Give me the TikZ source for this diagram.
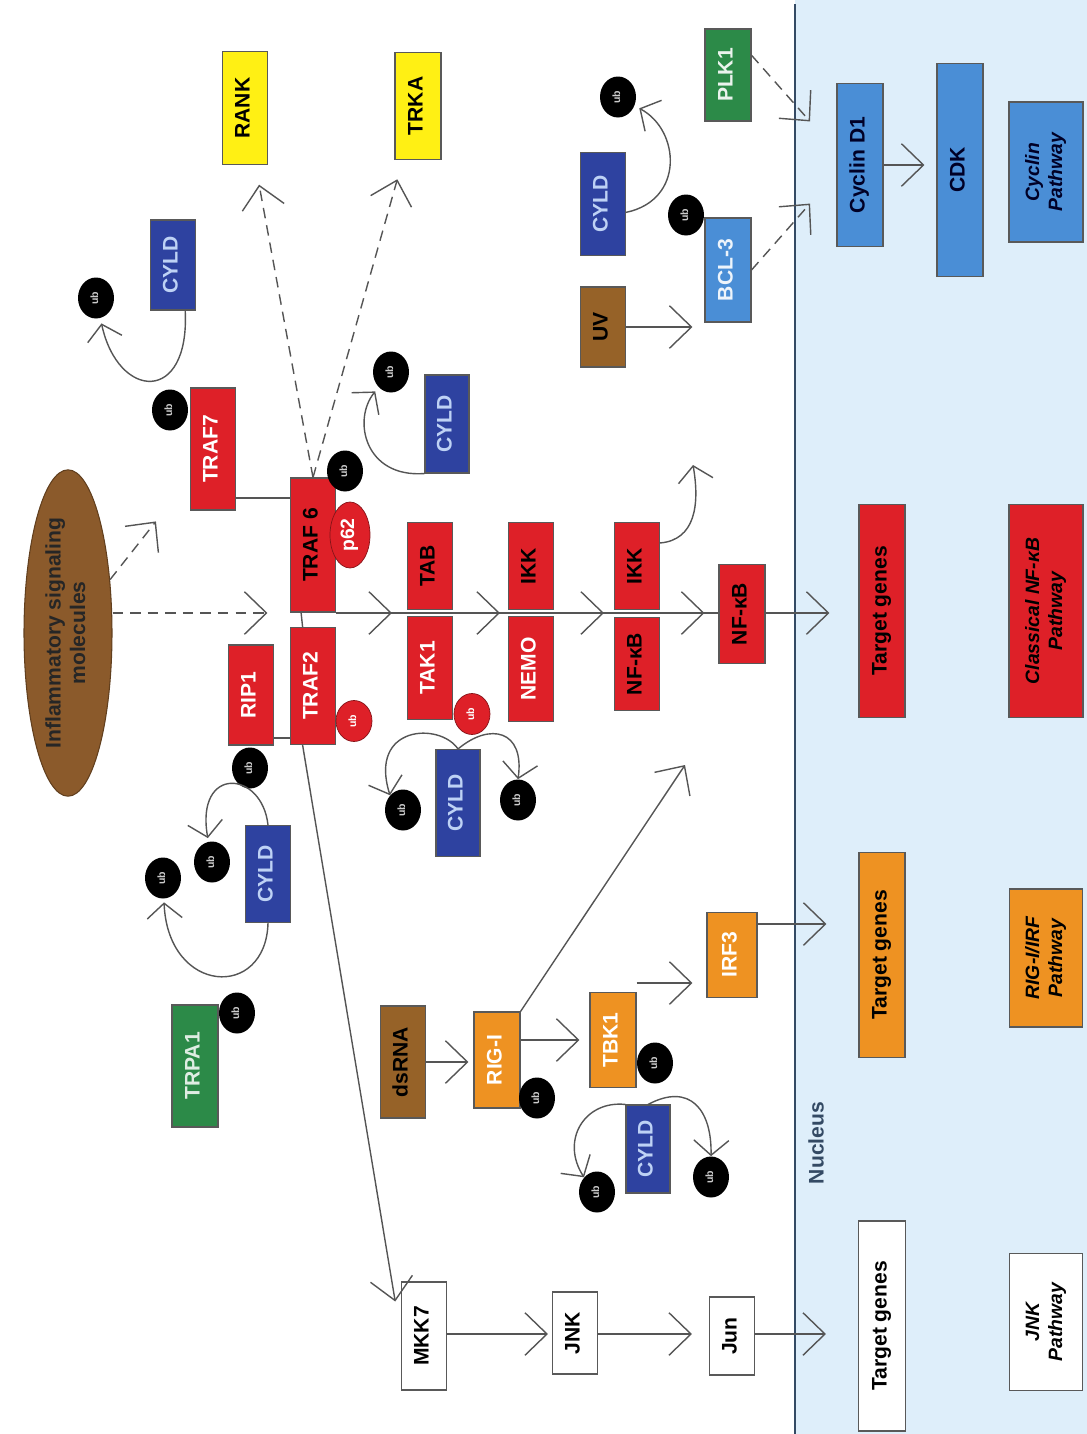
\documentclass[tikz,border=0pt]{standalone}
\usepackage{fontspec}
\setmainfont{Liberation Sans}
\usepackage{graphicx}
\usetikzlibrary{shapes,positioning,arrows.meta,calc}
\pgfdeclarelayer{background}
\pgfsetlayers{background,main}

\definecolor{boxred}{RGB}{222,32,40}
\definecolor{cyldblue}{RGB}{46,66,160}
\definecolor{cyldtext}{RGB}{190,210,245}
\definecolor{boxyellow}{RGB}{255,240,20}
\definecolor{boxgreen}{RGB}{44,138,72}
\definecolor{boxorange}{RGB}{238,146,34}
\definecolor{boxbrown}{RGB}{150,98,40}
\definecolor{infbrown}{RGB}{139,90,43}
\definecolor{boxlblue}{RGB}{74,142,214}
\definecolor{nucbg}{RGB}{222,238,250}
\definecolor{nucline}{RGB}{52,74,100}
\definecolor{arrgray}{RGB}{85,85,85}

\newcommand{\vtext}[1]{\rotatebox{90}{\begin{tabular}{@{}c@{}}#1\end{tabular}}}

\begin{document}
\begin{tikzpicture}[x=0.02cm, y=-0.02cm,
  box/.style={rectangle, draw=black!65, line width=0.6pt, inner sep=0pt, font=\bfseries\fontsize{12}{13}\selectfont},
  wh/.style 2 args={minimum width=#1*0.02cm, minimum height=#2*0.02cm},
  rbox/.style={box, fill=boxred},
  obox/.style={box, fill=boxorange, text=white},
  pw/.style={box, font=\bfseries\itshape\fontsize{11}{13}\selectfont},
  cyld/.style={box, fill=cyldblue, text=cyldtext},
  ub/.style={ellipse, fill=black, inner sep=0pt, minimum width=0.72cm, minimum height=0.82cm, text=black!20, font=\bfseries\fontsize{6}{6}\selectfont},
  ubr/.style={ub, fill=boxred, draw=boxred!60!black, text=white},
  arr/.style={draw=arrgray, line width=0.8pt, -{Straight Barb[length=4.4mm, width=8.5mm]}},
  carr/.style={draw=arrgray, line width=0.8pt, -{Straight Barb[length=3mm, width=7mm]}},
  darr/.style={arr, dash pattern=on 6pt off 4pt},
  conn/.style={draw=arrgray, line width=0.8pt}]
	\useasboundingbox (0,0) rectangle (1087,1434);

	% rows used by the horizontal links
	\coordinate (row) at (0,613);
	\coordinate (r7) at (0,498);
	\coordinate (r2) at (0,738);
	\coordinate (irfrow) at (0,983);
	\coordinate (irfout) at (0,924);
	\coordinate (jrow) at (0,1334);
	\coordinate (ikkout) at (693,465);
	\coordinate (nfin) at (685,765);

	\node[ellipse, draw=infbrown!70!black, fill=infbrown, line width=0.6pt, minimum width=1.76cm, minimum height=6.36cm, inner sep=0pt, text=black!85, font=\bfseries\fontsize{12}{14}\selectfont] (infl) at (68,633) {\vtext{Inflammatory signaling\\molecules}};

	\node[box, fill=boxyellow, wh={45}{113}] (rank) at (245,108) {\vtext{RANK}};
	\node[box, fill=boxyellow, wh={46}{107}] (trka) at (418,106) {\vtext{TRKA}};

	\node[rbox, text=white, wh={45}{122}] (traf7) at (213,449) {\vtext{TRAF7}};
	\node[rbox, wh={45}{134}] (traf6) at (313,545) {\vtext{TRAF 6}};
	\node[ellipse, fill=boxred, draw=boxred!60!black, text=white, inner sep=0pt, minimum width=0.8cm, minimum height=1.32cm, font=\bfseries\fontsize{11}{12}\selectfont] (p62) at (350,535) {\vtext{p62}};
	\node[rbox, text=white, wh={45}{117}] (traf2) at (313,686) {\vtext{TRAF2}};
	\node[rbox, text=white, wh={45}{100}] (rip1) at (251,695) {\vtext{RIP1}};

	\node[rbox, wh={45}{87}] (tab) at (430,566) {\vtext{TAB}};
	\node[rbox, text=white, wh={45}{103}] (tak1) at (430,668) {\vtext{TAK1}};
	\node[rbox, wh={45}{87}] (ikk) at (531,566) {\vtext{IKK}};
	\node[rbox, text=white, wh={45}{105}] (nemo) at (531,669) {\vtext{NEMO}};
	\node[rbox, wh={45}{87}] (ikk2) at (637,566) {\vtext{IKK}};
	\node[rbox, wh={45}{93}] (nfkbA) at (637,664) {\vtext{NF-κB}};
	\node[rbox, wh={46}{99}] (nfkbB) at (742,614) {\vtext{NF-κB}};
	\node[rbox, wh={46}{213}] (tgA) at (882,611) {\vtext{Target genes}};
	\node[pw, fill=boxred, wh={74}{213}] (pwA) at (1046,611) {\vtext{Classical NF-κB\\Pathway}};

	\node[box, fill=boxbrown, wh={45}{112}] (dsrna) at (403,1062) {\vtext{dsRNA}};
	\node[obox, wh={46}{96}] (rigi) at (497,1060) {\vtext{RIG-I}};
	\node[obox, wh={46}{95}] (tbk1) at (613,1040) {\vtext{TBK1}};
	\node[obox, wh={50}{85}] (irf3) at (732,955) {\vtext{IRF3}};
	\node[box, fill=boxorange, wh={46}{205}] (tgB) at (882,955) {\vtext{Target genes}};
	\node[pw, fill=boxorange, wh={73}{138}] (pwB) at (1046,958) {\vtext{RIG-I/IRF\\Pathway}};

	\node[box, fill=white, wh={45}{108}] (mkk7) at (424,1336) {\vtext{MKK7}};
	\node[box, fill=white, wh={45}{82}] (jnk) at (575,1333) {\vtext{JNK}};
	\node[box, fill=white, wh={45}{78}] (jun) at (732,1336) {\vtext{Jun}};
	\node[box, fill=white, wh={47}{210}] (tgC) at (882,1326) {\vtext{Target genes}};
	\node[pw, fill=white, wh={73}{137}] (pwC) at (1046,1322) {\vtext{JNK\\Pathway}};

	\node[box, fill=boxbrown, wh={45}{80}] (uv) at (603,327) {\vtext{UV}};
	\node[box, fill=boxlblue, text=white!90!boxlblue, wh={46}{104}] (bcl3) at (728,270) {\vtext{BCL-3}};
	\node[box, fill=boxgreen, text=white!90!boxgreen, wh={46}{92}] (plk1) at (728,75) {\vtext{PLK1}};
	\node[box, fill=boxlblue, text=black!85!blue, wh={46}{163}] (cyclin) at (860,165) {\vtext{Cyclin D1}};
	\node[box, fill=boxlblue, text=black!85!blue, wh={46}{213}] (cdk) at (960,170) {\vtext{CDK}};
	\node[pw, fill=boxlblue, text=black!85!blue, wh={74}{140}] (pwD) at (1046,172) {\vtext{Cyclin\\Pathway}};

	\node[box, fill=boxgreen, text=white!85!boxgreen, wh={46}{122}] (trpa1) at (195,1066) {\vtext{TRPA1}};

	\node[cyld, wh={45}{90}] (cyldA) at (173,265) {\vtext{CYLD}};
	\node[cyld, wh={44}{98}] (cyldB) at (447,424) {\vtext{CYLD}};
	\node[cyld, wh={44}{107}] (cyldC) at (458,803) {\vtext{CYLD}};
	\node[cyld, wh={45}{97}] (cyldD) at (268,874) {\vtext{CYLD}};
	\node[cyld, wh={44}{88}] (cyldE) at (648,1149) {\vtext{CYLD}};
	\node[cyld, wh={45}{103}] (cyldF) at (603,204) {\vtext{CYLD}};

	\node[ub] (ubA) at (96,298) {\vtext{ub}};
	\node[ub] (ubB) at (170,410) {\vtext{ub}};
	\node[ub] (ubC) at (391,372) {\vtext{ub}};
	\node[ub] (ubD) at (345,471) {\vtext{ub}};
	\node[ub] (ubE) at (250,768) {\vtext{ub}};
	\node[ub] (ubF) at (403,810) {\vtext{ub}};
	\node[ub] (ubG) at (518,800) {\vtext{ub}};
	\node[ub] (ubH) at (212,862) {\vtext{ub}};
	\node[ub] (ubI) at (163,878) {\vtext{ub}};
	\node[ub] (ubJ) at (237,1013) {\vtext{ub}};
	\node[ub] (ubK) at (537,1098) {\vtext{ub}};
	\node[ub] (ubL) at (655,1063) {\vtext{ub}};
	\node[ub] (ubM) at (597,1192) {\vtext{ub}};
	\node[ub] (ubN) at (711,1177) {\vtext{ub}};
	\node[ub] (ubO) at (686,215) {\vtext{ub}};
	\node[ub] (ubP) at (618,97) {\vtext{ub}};
	\node[ubr] (ubR1) at (354,721) {\vtext{ub}};
	\node[ubr] (ubR2) at (472,714) {\vtext{ub}};

	\node[text=nucline, font=\bfseries\fontsize{12}{13}\selectfont] (nuc) at (819,1143) {\vtext{Nucleus}};

	\begin{pgfonlayer}{background}
		\fill[nucbg] (795,0) rectangle (1087,1434);
		\draw[nucline, line width=1pt] (795,4) -- (795,1434);
		\draw[conn] (traf6.east |- row) -- (nfkbB.west |- row);
	\end{pgfonlayer}

	\draw[conn] (traf7.east |- r7) -- (traf6.west |- r7);
	\draw[conn] (traf6.-100) -- (traf2.100);
	\draw[conn] (rip1.east |- r2) -- (traf2.west |- r2);

	\draw[darr, shorten >=1.1cm] (infl) -- (traf7);
	\draw[darr, shorten >=0.45cm] (infl.east |- row) -- (traf6.west |- row);
	\draw[darr, shorten >=0.4cm] (traf6.north) -- (rank);
	\draw[darr, shorten >=0.4cm] (traf6.north) -- (trka);
	\draw[darr, shorten >=0.8cm] (plk1.40) -- (cyclin.150);
	\draw[darr, shorten >=0.8cm] (bcl3.east) -- (cyclin.200);

	\draw[arr, shorten >=0.3cm] (traf6.east |- row) -- (tak1.west |- row);
	\draw[arr, shorten >=0.16cm] (tak1.east |- row) -- (nemo.west |- row);
	\draw[arr, shorten >=0.2cm] (nemo.east |- row) -- (nfkbA.west |- row);
	\draw[arr, shorten >=0.28cm] (nfkbA.east |- row) -- (nfkbB.west |- row);
	\draw[arr, shorten >=0.58cm] (nfkbB.east |- row) -- (tgA.west |- row);

	\draw[arr, shorten >=0.1cm] (dsrna.east) -- (dsrna.east -| rigi.west);
	\draw[arr, shorten >=0.2cm] (rigi.east |- tbk1.west) -- (tbk1.west);
	\draw[arr, shorten >=0.28cm] (tbk1.north east |- irfrow) -- (irf3.west |- irfrow);
	\draw[arr, shorten >=0.64cm] (irf3.east |- irfout) -- (tgB.west |- irfout);
	\draw[arr] (rigi.north east) -- (nfin);

	\draw[arr, shorten >=0.7cm] (traf2.-100) -- (mkk7.west);
	\draw[arr, shorten >=0.08cm] (mkk7.east |- jrow) -- (jnk.west |- jrow);
	\draw[arr, shorten >=0.34cm] (jnk.east |- jrow) -- (jun.west |- jrow);
	\draw[arr, shorten >=0.64cm] (jun.east |- jrow) -- (tgC.west |- jrow);

	\draw[arr, shorten >=0.24cm] (uv.east) -- (uv.east -| bcl3.west);
	\draw[arr, shorten >=0.24cm] (cyclin.east) -- (cyclin.east -| cdk.west);

	% CYLD removes ubiquitin
	\draw[carr, shorten >=3pt] (cyldA.-75) .. controls (190,405) and (118,400) .. (ubA);
	\draw[carr, shorten >=3pt] (cyldB.south west) .. controls (365,478) and (352,420) .. (ubC);
	\draw[carr, shorten >=2pt] (cyldD.north) .. controls (262,770) and (195,765) .. (ubH);
	\draw[carr, shorten >=2pt] (cyldD.south) .. controls (266,1000) and (168,995) .. (ubI);
	\draw[carr] (cyldC.north) .. controls (440,722) and (368,725) .. (ubF.north west);
	\draw[carr] (cyldC.north) .. controls (490,722) and (525,730) .. (ubG.north);
	\draw[carr] (cyldE.north west) .. controls (585,1100) and (560,1140) .. (ubM.north west);
	\draw[carr] (cyldE.north) .. controls (690,1082) and (712,1110) .. (ubN.north);
	\draw[carr, shorten >=3pt] (cyldF.-20) .. controls (685,200) and (680,130) .. (ubP);
	\draw[carr] (ikk2.45) .. controls (695,540) and (700,505) .. (ikkout);
\end{tikzpicture}
\end{document}
